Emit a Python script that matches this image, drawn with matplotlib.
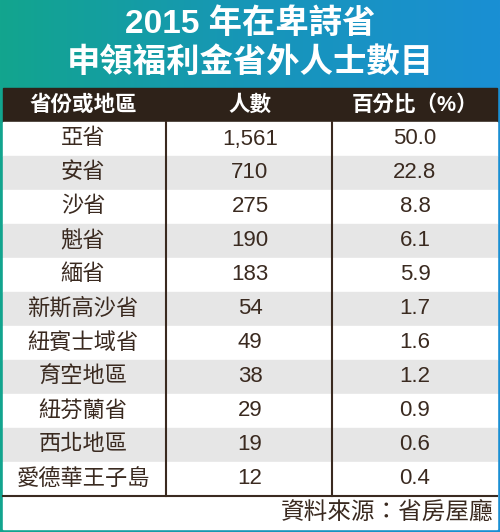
import numpy as np
import matplotlib
matplotlib.use("Agg")
import matplotlib.pyplot as plt
from matplotlib.colors import LinearSegmentedColormap
from matplotlib.patches import Rectangle

plt.rcParams['font.family'] = ['Liberation Sans', 'Noto Sans CJK TC', 'DejaVu Sans']

title_lines = ["2015 年在卑詩省", "申領福利金省外人士數目"]
headers = ["省份或地區", "人數", "百分比（%）"]
regions = ["亞省", "安省", "沙省", "魁省", "緬省", "新斯高沙省", "紐賓士域省",
           "育空地區", "紐芬蘭省", "西北地區", "愛德華王子島"]
counts = ["1,561", "710", "275", "190", "183", "54", "49", "38", "29", "19", "12"]
percents = ["50.0", "22.8", "8.8", "6.1", "5.9", "1.7", "1.6", "1.2", "0.9", "0.6", "0.4"]
source = "資料來源：省房屋廳"

W, H = 500, 532
fig = plt.figure(figsize=(5, 5.32), dpi=100)
ax = fig.add_axes([0, 0, 1, 1])
ax.set_xlim(0, W); ax.set_ylim(H, 0); ax.axis('off')

cmap = LinearSegmentedColormap.from_list('g', ['#12a58e', '#1796b8', '#1a8fd4'])
grad = np.linspace(0, 1, 256).reshape(1, -1)
ax.imshow(grad, cmap=cmap, extent=[0, W, H, 0], aspect='auto', zorder=0)

tf = ['Liberation Sans', 'Noto Sans CJK TC']
ax.text(W/2, 24, title_lines[0], ha='center', va='center', color='white',
        fontsize=24, fontweight='heavy', family=tf, zorder=3)
ax.text(W/2, 63, title_lines[1], ha='center', va='center', color='white',
        fontsize=24, fontweight='heavy', family=tf, zorder=3)

L, R = 3, 497
top, hh = 88, 34
rh = 34
dark = '#2e2219'
txt = '#3a2a20'
ax.add_patch(Rectangle((L, top), R-L, hh, color=dark, zorder=1))
cx = [83, 250, 415]
for x, h in zip(cx, headers):
    ax.text(x, top+hh/2, h, ha='center', va='center', color='white',
            fontsize=15.5, fontweight='bold', zorder=3)
y0 = top + hh
for i, (r, c, p) in enumerate(zip(regions, counts, percents)):
    y = y0 + i*rh
    ax.add_patch(Rectangle((L, y), R-L, rh, color='white' if i % 2 == 0 else '#e6e6e6', zorder=1))
    for x, t in zip(cx, [r, c, p]):
        ax.text(x, y+rh/2, t, ha='center', va='center', color=txt, fontsize=16, zorder=3)
yb = y0 + len(regions)*rh
for x in [166, 332]:
    ax.plot([x, x], [y0, yb], color=txt, lw=1.5, zorder=2)
ax.add_patch(Rectangle((L, yb), R-L, H-3-yb, color='white', zorder=1))
ax.plot([L, R], [yb, yb], color=txt, lw=1.5, zorder=2)
ax.text(494, (yb+H-3)/2, source, ha='right', va='center', color=txt, fontsize=17, zorder=3)

fig.savefig('out.png', dpi=100)
